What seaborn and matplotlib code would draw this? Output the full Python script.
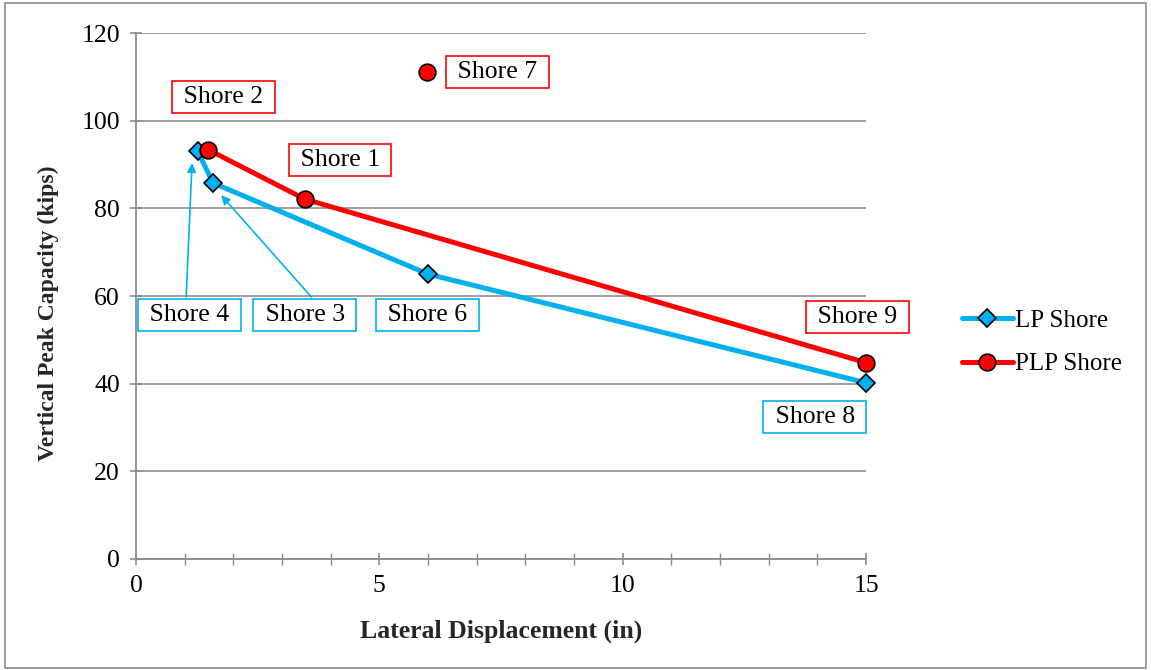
import matplotlib
matplotlib.use("Agg")
import matplotlib.pyplot as plt
import seaborn as sns
import pandas as pd
from matplotlib.patches import Rectangle
from matplotlib.ticker import MultipleLocator

# data
lp_x = [1.27, 1.58, 6.0, 15.0]
lp_y = [93.0, 85.8, 65.0, 40.2]
plp_x = [1.48, 3.47, 15.0]
plp_y = [93.4, 82.1, 44.8]
shore7_x = [5.98]
shore7_y = [111.0]

labels = ["Shore 1", "Shore 2", "Shore 3", "Shore 4", "Shore 6", "Shore 7", "Shore 8", "Shore 9"]
label_x = [4.19, 1.79, 3.47, 1.09, 5.98, 7.42, 13.95, 14.83]
label_y = [91.0, 105.4, 55.7, 55.7, 55.7, 111.1, 32.4, 55.2]
label_color = ["#FF0000", "#FF0000", "#00B0F0", "#00B0F0", "#00B0F0", "#FF0000", "#00B0F0", "#FF0000"]

blue = "#00B0F0"
red = "#FF0000"

sns.set_style("white")
plt.rcParams["font.family"] = ["Liberation Serif", "DejaVu Serif"]

fig = plt.figure(figsize=(11.51, 6.70), dpi=100)
ax = fig.add_axes([0.1182, 0.1657, 0.7524 - 0.1182, 0.9507 - 0.1657])

lp = pd.DataFrame({"x": lp_x, "y": lp_y})
plp = pd.DataFrame({"x": plp_x, "y": plp_y})

sns.lineplot(data=lp, x="x", y="y", sort=False, color=blue, lw=3.6,
             marker="D", markersize=9, markerfacecolor=blue,
             markeredgecolor="black", markeredgewidth=1.2, label="LP Shore", ax=ax,
             zorder=3, clip_on=False)
sns.lineplot(data=plp, x="x", y="y", sort=False, color=red, lw=3.6,
             marker="o", markersize=12, markerfacecolor=red,
             markeredgecolor="black", markeredgewidth=1.2, label="PLP Shore", ax=ax,
             zorder=4, clip_on=False)
ax.plot(shore7_x, shore7_y, linestyle="none", marker="o", markersize=12,
        markerfacecolor=red, markeredgecolor="black", markeredgewidth=1.2, zorder=4)

# annotation boxes
for t, x, y, c in zip(labels, label_x, label_y, label_color):
    ax.text(x, y, " " + t + " ", ha="center", va="center", fontsize=18.5, color="black",
            bbox=dict(boxstyle="square,pad=0.2", facecolor="white", edgecolor=c, lw=1.2),
            zorder=5)

# arrows for Shore 4 and Shore 3
ax.annotate("", xy=(1.15, 90.3), xytext=(1.03, 59.8),
            arrowprops=dict(arrowstyle="-|>", color=blue, lw=1.2, mutation_scale=13,
                            shrinkA=0, shrinkB=0))
ax.annotate("", xy=(1.75, 83.0), xytext=(3.6, 59.8),
            arrowprops=dict(arrowstyle="-|>", color=blue, lw=1.2, mutation_scale=13,
                            shrinkA=0, shrinkB=0))

ax.set_xlim(0, 15)
ax.set_ylim(0, 120)
ax.xaxis.set_major_locator(MultipleLocator(5))
ax.xaxis.set_minor_locator(MultipleLocator(1))
ax.yaxis.set_major_locator(MultipleLocator(20))
ax.yaxis.grid(True, color="#999999", lw=1.3)
ax.xaxis.grid(False)
ax.set_axisbelow(True)

for s in ["top", "right"]:
    ax.spines[s].set_visible(False)
for s in ["left", "bottom"]:
    ax.spines[s].set_color("#8c8c8c")
    ax.spines[s].set_linewidth(1.3)

ax.tick_params(axis="both", which="both", bottom=True, left=True)
ax.tick_params(axis="both", which="major", direction="inout", length=9, width=1.2,
               color="#8c8c8c", labelsize=18.5, labelcolor="black", pad=7)
ax.tick_params(axis="x", which="minor", direction="inout", length=8, width=1.0, color="#8c8c8c")

ax.set_xlabel("Lateral Displacement (in)", fontsize=18.5, fontweight="bold", labelpad=16)
ax.set_ylabel("Vertical Peak Capacity (kips)", fontsize=17, fontweight="bold", labelpad=16)
ax.yaxis.label.set_y(0.467)

leg = ax.legend(loc="center left", bbox_to_anchor=(1.1, 0.412), frameon=False,
                fontsize=18, handlelength=2.05, handletextpad=0.1, labelspacing=0.85)
for txt in leg.get_texts():
    txt.set_color("black")

# outer border
fig.patches.append(Rectangle((0.004, 0.003), 0.992, 0.993, transform=fig.transFigure,
                             fill=False, edgecolor="#8c8c8c", lw=1.2))

fig.savefig("out.png", dpi=100)
